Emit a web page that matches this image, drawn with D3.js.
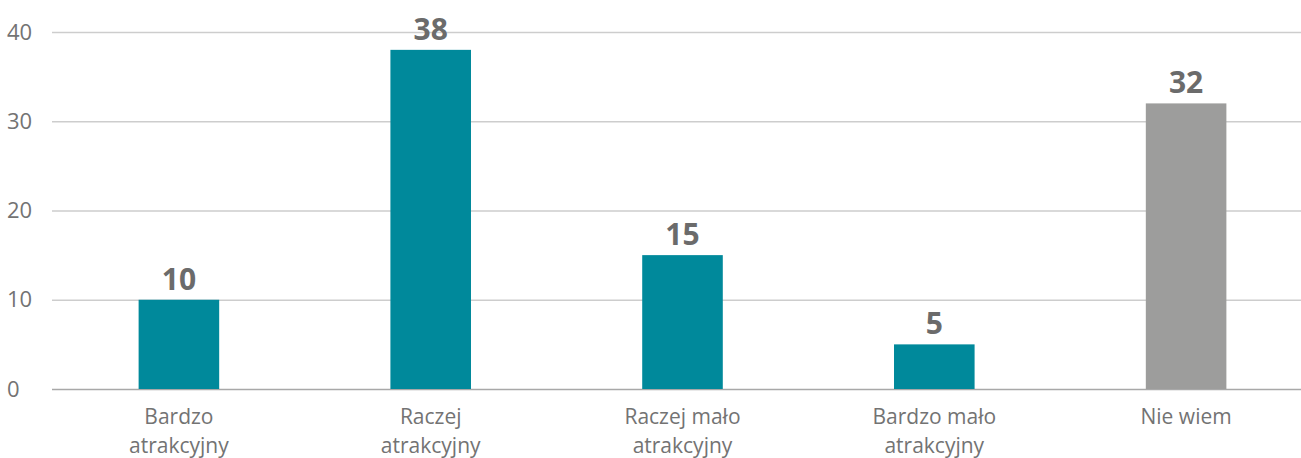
<!DOCTYPE html>
<html>
<head>
<meta charset="utf-8">
<script src="https://cdn.jsdelivr.net/npm/d3@7"></script>
<style>
  html, body { margin: 0; padding: 0; background: #fff; }
  svg { display: block; font-family: "Open Sans", Lato, sans-serif; }
</style>
</head>
<body>
<svg id="chart" width="1301" height="458"></svg>
<script>
const categories = [["Bardzo", "atrakcyjny"], ["Raczej", "atrakcyjny"], ["Raczej mało", "atrakcyjny"], ["Bardzo mało", "atrakcyjny"], ["Nie wiem"]];
const values = [10, 38, 15, 5, 32];
const barColors = ["#00899b", "#00899b", "#00899b", "#00899b", "#9d9d9c"];
const yTicks = [0, 10, 20, 30, 40];

const svg = d3.select("#chart");
const keys = categories.map((c, i) => i);

const x = d3.scaleBand().domain(keys).range([53, 1312]).paddingInner(0.68).paddingOuter(0.34);
const y = d3.scaleLinear().domain([0, 40]).range([389, 32]);

// horizontal grid lines with left-aligned tick labels
const grid = svg.append("g");
grid.selectAll("line").data(yTicks).join("line")
  .attr("x1", 52).attr("x2", 1301)
  .attr("y1", d => y(d) + 0.5).attr("y2", d => y(d) + 0.5)
  .attr("stroke", d => d === 0 ? "#a8a8a8" : "#cdcdcd")
  .attr("stroke-width", 1.3);
grid.selectAll("text").data(yTicks).join("text")
  .attr("x", 7).attr("y", d => y(d))
  .attr("dy", "0.35em")
  .attr("fill", "#737373")
  .attr("font-size", 22)
  .text(d => d);

// bars
svg.append("g").selectAll("rect").data(values).join("rect")
  .attr("x", (d, i) => x(i))
  .attr("width", x.bandwidth())
  .attr("y", d => y(d))
  .attr("height", d => y(0) - y(d))
  .attr("fill", (d, i) => barColors[i]);

// value labels
svg.append("g").selectAll("text").data(values).join("text")
  .attr("x", (d, i) => x(i) + x.bandwidth() / 2)
  .attr("y", d => y(d) - 10)
  .attr("text-anchor", "middle")
  .attr("fill", "#6b6b6b")
  .attr("font-size", 30)
  .attr("font-weight", "bold")
  .text(d => d);

// category labels
const cat = svg.append("g").selectAll("text").data(categories).join("text")
  .attr("x", (d, i) => x(i) + x.bandwidth() / 2)
  .attr("y", 424)
  .attr("text-anchor", "middle")
  .attr("fill", "#737373")
  .attr("font-size", 21);
cat.selectAll("tspan").data(d => d).join("tspan")
  .attr("x", function() { return this.parentNode.getAttribute("x"); })
  .attr("dy", (d, j) => j === 0 ? 0 : 29)
  .text(d => d);
</script>
</body>
</html>
